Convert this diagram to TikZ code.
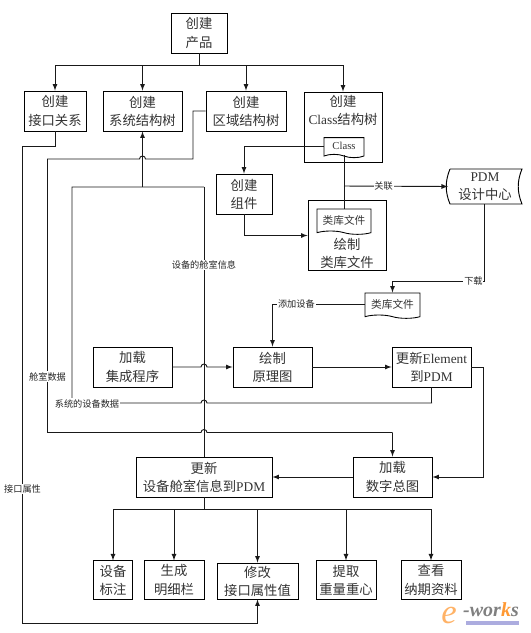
\documentclass[tikz,border=0pt]{standalone}
\usepackage{fontspec}
\setmainfont{Noto Sans CJK SC}
\newfontfamily\lat{Liberation Serif}
\usepackage{tikz}
\usetikzlibrary{positioning,shapes.symbols}
\tikzset{
	boxw/.style={draw,line width=0.65pt,inner sep=0pt,align=center,text=black!80,
		font=\fontsize{10}{13.6}\selectfont,minimum width=#1*0.75pt,minimum height=30pt},
	plain/.style={inner sep=0pt,align=center,text=black!80,font=\fontsize{10}{13.6}\selectfont},
	docw/.style={boxw=#1,shape=tape,tape bend top=none,tape bend bottom=out and in,tape bend height=2.5pt},
	tag/.style={fill=white,inner sep=0.6pt,text=black!85,font=\fontsize{6.9}{8}\selectfont},
	link/.style={line width=0.7pt,color=black!90,>=latex},
}
\newcommand{\hopr}[2]{-- ({#1-3},#2) arc[start angle=180,end angle=0,radius=2.25pt]}
\newcommand{\hopl}[2]{-- ({#1+3},#2) arc[start angle=0,end angle=180,radius=2.25pt]}

\begin{document}
\begin{tikzpicture}[x=0.75pt,y=-0.75pt]
	\useasboundingbox (0,0) rectangle (531,633);
	% top row
	\node[boxw=56] (prod) at (199,33) {创建\\产品};
	\node[boxw=62] (iface) at (55,111) {创建\\接口关系};
	\node[boxw=79] (systree) at (142.5,111) {创建\\系统结构树};
	\node[boxw=80] (zonetree) at (246,111) {创建\\区域结构树};
	\node[boxw=78,minimum height=52.5pt] (clstree) at (343,127) {};
	\node[plain,below=2.5pt of clstree.north] (clstxt) {创建\\{\lat Class}结构树};
	\node[docw=40,minimum height=15pt,font=\fontsize{8}{10}\selectfont] (clsdoc) at (344,146) {\lat Class};
	% middle
	\node[boxw=56] (comp) at (244,194) {创建\\组件};
	\node[boxw=78,minimum height=53pt] (libbox) at (347,235.5) {};
	\node[plain,above=1.5pt of libbox.south] (libtxt) {绘制\\类库文件};
	\node[docw=54,minimum height=19pt,font=\fontsize{8}{10}\selectfont] (libdoc) at (344,220) {类库文件};
	\node[plain,minimum width=55.5pt,minimum height=26pt] (pdm) at (485,186.5) {{\lat PDM}\\设计中心};
	\draw[line width=0.7pt] (450,169) -- (522,169) .. controls (517,181) and (517,192) .. (522,204) -- (450,204) .. controls (445,192) and (445,181) .. (450,169);
	\node[docw=55,minimum height=19pt,font=\fontsize{8}{10}\selectfont] (dldoc) at (392.5,304) {类库文件};
	\node[boxw=79] (loader) at (132.5,367) {加载\\集成程序};
	\node[boxw=79] (schem) at (272.5,367) {绘制\\原理图};
	\node[boxw=79] (elem) at (431.5,367) {更新{\lat Element}\\到{\lat PDM}};
	% lower row
	\node[boxw=79] (layout) at (392.5,477) {加载\\数字总图};
	\node[boxw=136] (cabin) at (204,477) {更新\\设备舱室信息到{\lat PDM}};
	\node[boxw=39,minimum height=28.8pt] (mark) at (113,580) {设备\\标注};
	\node[boxw=60,minimum height=28.8pt] (bom) at (174,580) {生成\\明细栏};
	\node[boxw=81,minimum height=27pt] (attr) at (257.5,581) {修改\\接口属性值};
	\node[boxw=60,minimum height=28.8pt] (weight) at (346,580) {提取\\重量重心};
	\node[boxw=60,minimum height=28.8pt] (info) at (431,580) {查看\\纳期资料};
	% top tree
	\draw[link] (prod.south) -- (199,65);
	\draw[link,->] (199,65) -| (iface.north);
	\draw[link,->] (199,65) -| (systree.north);
	\draw[link,->] (199,65) -| (zonetree.north);
	\draw[link,->] (199,65) -| (clstree.north);
	% class part
	\draw[link,->] (clsdoc.west) -| (comp.north);
	\draw[link,->] (comp.south) |- (libbox.west);
	\draw[link] (clsdoc.south) -- (libdoc.north);
	\draw[link,->] (344,186) -- node[tag,pos=0.38]{关联} (pdm.west -| 448,186);
	\draw[link,->] (484.5,204) |- node[tag,pos=0.56]{下载} (392.5,281) -- (dldoc.north);
	\draw[link,->] (dldoc.west) -| node[tag,pos=0.37]{添加设备} (schem.north);
	% long lines with hops
	\draw[link,->] (loader.east) \hopr{204}{367} -- (schem.west);
	\draw[link,->] (schem.east) -- (elem.west);
	\draw[link,->] (elem.east) -- (483,367) -- (483,477) -- (layout.east);
	\draw[link,->] (layout.west) -- (cabin.east);
	\draw[link] (elem.south) |- (432,403) \hopl{204}{403} -- (72,403) -- (72,187) -- (204,187);
	\node[tag] (sysdata) at (87,403.5) {系统的设备数据};
	\draw[link,->] (142.5,187) -- (systree.south);
	\draw[link] (cabin.north) -- node[tag,pos=0.71]{设备的舱室信息} (204,187);
	\draw[link] (zonetree.west) -- (193,111) -- (193,159) \hopl{142.5}{159} -- (47.5,159) -- (47.5,432.5) \hopr{204}{432.5} -- (392.5,432.5);
	\draw[link,->] (392.5,432.5) -- (layout.north);
	\node[tag] (cabdata) at (47.5,376.5) {舱室数据};
	\draw[link,->] (iface.south) |- (22.5,146) -- (22.5,623) -| (attr.south);
	\node[tag] (ifdata) at (22.5,489) {接口属性};
	% bottom tree
	\draw[link] (cabin.south) -- (204,509);
	\draw[link,->] (204,509) -| (mark.north);
	\draw[link,->] (204,509) -| (bom.north);
	\draw[link,->] (204,509) -| (attr.north);
	\draw[link,->] (204,509) -| (weight.north);
	\draw[link,->] (204,509) -| (info.north);
	% logo
	\fill[blue!45!gray!45] (466,621) rectangle (519,625);
	\node[inner sep=0pt,text=orange!60,font=\fontsize{26}{26}\selectfont\lat\itshape] (logoe) at (449,615) {e};
	\node[inner sep=0pt,text=black!50,font=\fontsize{15}{15}\selectfont\lat\bfseries\itshape] (logow) at (491,610) {-wor{\color{orange!80}k}s};
\end{tikzpicture}
\end{document}
